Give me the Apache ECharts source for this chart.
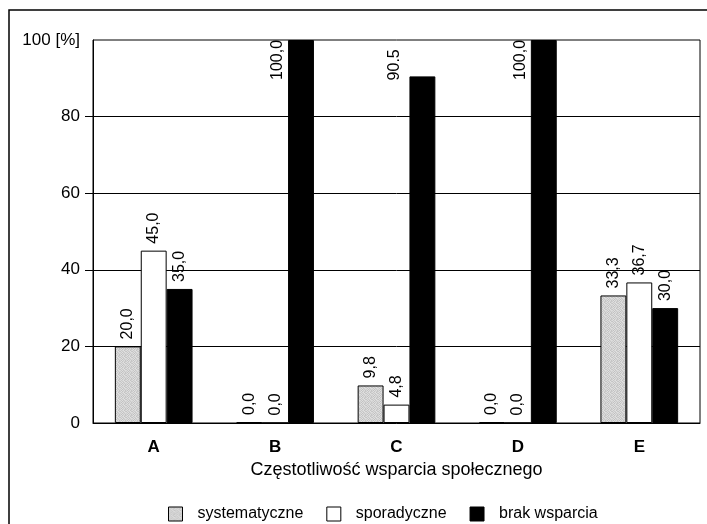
<!DOCTYPE html>
<html>
<head>
<meta charset="utf-8">
<script src="https://cdn.jsdelivr.net/npm/echarts@6/dist/echarts.min.js"></script>
<style>
  html, body { margin: 0; padding: 0; background: #fff; }
  #chart { width: 707px; height: 524px; }
</style>
</head>
<body>
<div id="chart"></div>
<script>
// Support frequency groups and the share of each support type (%)
const categories = ['A', 'B', 'C', 'D', 'E'];
const seriesNames = ['systematyczne', 'sporadyczne', 'brak wsparcia'];
const systematyczne = [20.0, 0.0, 9.8, 0.0, 33.3];
const sporadyczne = [45.0, 0.0, 4.8, 0.0, 36.7];
const brakWsparcia = [35.0, 100.0, 90.5, 100.0, 30.0];
// decimal separator used in each printed value of the last series
const brakSeparators = [',', ',', '.', ',', ','];
const yTicks = [0, 20, 40, 60, 80, 100];

const FONT = '"Liberation Sans", Arial, sans-serif';

// speckled light-grey fill
function greyPattern() {
  const c = document.createElement('canvas');
  c.width = 6; c.height = 6;
  const g = c.getContext('2d');
  const shades = [
    '#d8d8d8', '#c0c0c0', '#e0e0e0', '#cacaca', '#dcdcdc', '#c4c4c4',
    '#cccccc', '#e2e2e2', '#c2c2c2', '#dadada', '#d0d0d0', '#c6c6c6',
    '#dedede', '#c8c8c8', '#d6d6d6', '#e0e0e0', '#c2c2c2', '#d4d4d4',
    '#c4c4c4', '#dcdcdc', '#cacaca', '#d2d2d2', '#e2e2e2', '#c8c8c8',
    '#dadada', '#c6c6c6', '#e0e0e0', '#c4c4c4', '#d4d4d4', '#dedede',
    '#cecece', '#dedede', '#c0c0c0', '#dadada', '#cacaca', '#d6d6d6'
  ];
  for (let i = 0; i < 36; i++) {
    g.fillStyle = shades[i];
    g.fillRect(i % 6, Math.floor(i / 6), 1, 1);
  }
  return c;
}

function fmt(v, sep) {
  return v.toFixed(1).replace('.', sep || ',');
}

const baseLabel = {
  show: true,
  position: 'top',
  rotate: 90,
  align: 'left',
  verticalAlign: 'middle',
  distance: 7,
  color: '#000',
  fontFamily: FONT,
  fontSize: 16
};

// tall bars get their value printed beside the bar, below the plot top
const tallLabelOffset = { 1: [-10, 40], 2: [-15, 4], 3: [-10, 40] };

function makeData(values, seps) {
  return values.map((v, i) => {
    const item = { value: v };
    if (seps && tallLabelOffset[i]) {
      item.label = { position: tallLabelOffset[i], align: 'left', verticalAlign: 'middle' };
    }
    return item;
  });
}

function makeSeries(name, values, color, seps, minHeight) {
  return {
    name: name,
    type: 'bar',
    data: makeData(values, seps),
    barGap: '0%',
    barCategoryGap: '36%',
    barMinHeight: minHeight || 0,
    itemStyle: { color: color, borderColor: '#000', borderWidth: 1 },
    label: Object.assign({}, baseLabel, {
      formatter: p => fmt(p.value, seps ? seps[p.dataIndex] : ',')
    }),
    emphasis: { disabled: true },
    animation: false
  };
}

const chart = echarts.init(document.getElementById('chart'), null, { renderer: 'canvas' });

chart.setOption({
  backgroundColor: '#fff',
  animation: false,
  textStyle: { fontFamily: FONT },
  graphic: [{
    type: 'rect',
    shape: { x: 9, y: 10, width: 760, height: 600 },
    style: { fill: null, stroke: '#000', lineWidth: 1.5 },
    silent: true
  }],
  grid: {
    left: 93, right: 7, top: 40, bottom: 101,
    show: true, borderColor: '#000', borderWidth: 1, backgroundColor: 'transparent'
  },
  legend: {
    data: seriesNames,
    left: 163, top: 501,
    itemWidth: 14, itemHeight: 14, itemGap: 23,
    icon: 'rect',
    itemStyle: { borderColor: '#000', borderWidth: 1 },
    textStyle: { fontFamily: FONT, fontSize: 16, color: '#000', padding: [0, 0, 0, 10] },
    selectedMode: false
  },
  xAxis: {
    type: 'category',
    data: categories,
    axisLine: { show: true, lineStyle: { color: '#000', width: 1 } },
    axisTick: { show: false },
    axisLabel: { fontFamily: FONT, fontSize: 17, fontWeight: 'bold', color: '#000', margin: 16 },
    name: 'Częstotliwość wsparcia społecznego',
    nameLocation: 'middle',
    nameGap: 35,
    nameTextStyle: { fontFamily: FONT, fontSize: 18, color: '#000' }
  },
  yAxis: {
    type: 'value',
    min: 0, max: 100, interval: 20,
    axisLine: { show: true, lineStyle: { color: '#000', width: 1 } },
    axisTick: { show: true, length: 8, lineStyle: { color: '#000' }, customValues: [20, 40, 60, 80] },
    axisLabel: {
      fontFamily: FONT, fontSize: 17, color: '#000', margin: 13,
      customValues: yTicks,
      formatter: v => (v === 100 ? '100 [%]' : String(v))
    },
    splitLine: { show: true, lineStyle: { color: '#000', width: 1 } }
  },
  series: [
    makeSeries(seriesNames[0], systematyczne, { image: greyPattern(), repeat: 'repeat' }, null, 1),
    makeSeries(seriesNames[1], sporadyczne, '#fff'),
    makeSeries(seriesNames[2], brakWsparcia, '#000', brakSeparators)
  ]
});
</script>
</body>
</html>
